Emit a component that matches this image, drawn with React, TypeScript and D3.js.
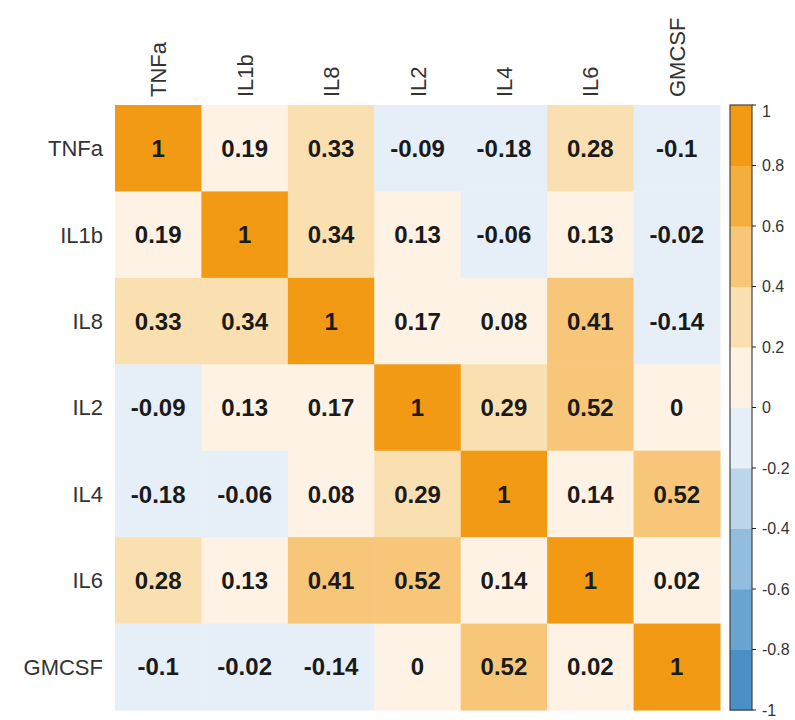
import * as d3 from "d3";

const vars = ["TNFa", "IL1b", "IL8", "IL2", "IL4", "IL6", "GMCSF"];
const rowTNFa = [1, 0.19, 0.33, -0.09, -0.18, 0.28, -0.1];
const rowIL1b = [0.19, 1, 0.34, 0.13, -0.06, 0.13, -0.02];
const rowIL8 = [0.33, 0.34, 1, 0.17, 0.08, 0.41, -0.14];
const rowIL2 = [-0.09, 0.13, 0.17, 1, 0.29, 0.52, 0];
const rowIL4 = [-0.18, -0.06, 0.08, 0.29, 1, 0.14, 0.52];
const rowIL6 = [0.28, 0.13, 0.41, 0.52, 0.14, 1, 0.02];
const rowGMCSF = [-0.1, -0.02, -0.14, 0, 0.52, 0.02, 1];
const corr = [rowTNFa, rowIL1b, rowIL8, rowIL2, rowIL4, rowIL6, rowGMCSF];

const binEdges = [-0.8, -0.6, -0.4, -0.2, 0, 0.2, 0.4, 0.6, 0.8];
const binColors = [
  "#4a90c6", "#6aa4d1", "#93bdde", "#bcd5ea", "#e6eff8",
  "#fdf2e3", "#fadfb0", "#f7c678", "#f4ae3e", "#f29a13",
];
const barTicks = [1, 0.8, 0.6, 0.4, 0.2, 0, -0.2, -0.4, -0.6, -0.8, -1];

const W = 795;
const H = 720;
const font = "'Liberation Sans', Arial, sans-serif";

export default function App() {
  const x = d3.scaleBand<string>().domain(vars).range([115, 720]);
  const y = d3.scaleBand<string>().domain(vars).range([105, 710]);
  const color = d3.scaleThreshold<number, string>().domain(binEdges).range(binColors);
  const bar = d3.scaleLinear().domain([-1, 1]).range([710, 105]);
  const barX = 730;
  const barW = 22;
  const bins = d3.range(10).map((i) => [-1 + i * 0.2, -1 + (i + 1) * 0.2]);

  return (
    <svg width={W} height={H} style={{ position: "absolute", left: 0, top: 0, background: "#fff" }} fontFamily={font}>
      {corr.map((row, i) =>
        row.map((v, j) => (
          <rect key={`c${i}-${j}`} x={x(vars[j])} y={y(vars[i])} width={x.bandwidth() + 0.5} height={y.bandwidth() + 0.5} fill={color(v)} />
        ))
      )}
      {corr.map((row, i) =>
        row.map((v, j) => (
          <text key={`t${i}-${j}`} x={x(vars[j])! + x.bandwidth() / 2} y={y(vars[i])! + y.bandwidth() / 2} dy="0.36em" textAnchor="middle" fontSize={24} fontWeight="bold" fill="#1a1a1a">
            {String(v)}
          </text>
        ))
      )}
      {vars.map((v) => (
        <text key={`r${v}`} x={103} y={y(v)! + y.bandwidth() / 2} dy="0.36em" textAnchor="end" fontSize={22} fill="#333">
          {v}
        </text>
      ))}
      {vars.map((v) => (
        <text key={`h${v}`} transform={`translate(${x(v)! + x.bandwidth() / 2 + 8},97) rotate(-90)`} textAnchor="start" fontSize={22} fill="#333">
          {v}
        </text>
      ))}
      {bins.map(([a, b], i) => (
        <rect key={`b${i}`} x={barX} y={bar(b)} width={barW} height={bar(a) - bar(b) + 0.5} fill={color((a + b) / 2)} />
      ))}
      <rect x={barX} y={bar(1)} width={barW} height={bar(-1) - bar(1)} fill="none" stroke="#444" strokeWidth={1.2} />
      {barTicks.map((t) => (
        <g key={`k${t}`}>
          <line x1={barX + barW} x2={barX + barW + 4} y1={bar(t)} y2={bar(t)} stroke="#222" strokeWidth={1} />
          <text x={barX + barW + 10} y={t === 1 ? bar(t) + 6 : bar(t)} dy="0.36em" fontSize={16} fill="#333">
            {String(t)}
          </text>
        </g>
      ))}
    </svg>
  );
}
